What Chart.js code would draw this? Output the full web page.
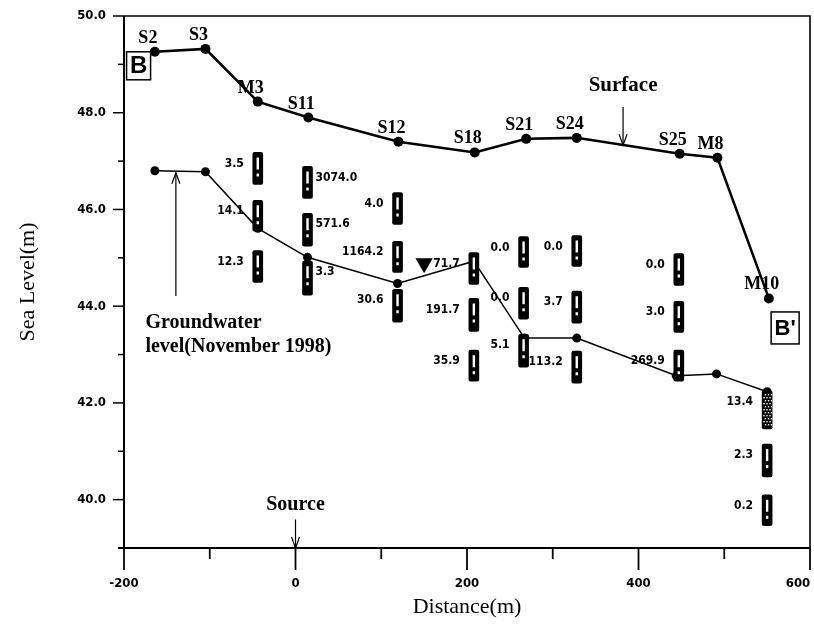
<!DOCTYPE html>
<html><head><meta charset="utf-8">
<script src="https://cdn.jsdelivr.net/npm/chart.js@4/dist/chart.umd.min.js"></script>
<style>html,body{margin:0;padding:0;background:#fff}#wrap{width:814px;height:630px}</style>
</head><body><div id="wrap"><canvas id="c" width="814" height="630"></canvas></div>
<script>
// ---- data ----
const stations = ['S2','S3','M3','S11','S12','S18','S21','S24','S25','M8','M10'];
const surfaceX = [-164,-105,-44,15,120,209,269,328,448,492,552];
const surfaceY = [49.26,49.32,48.23,47.90,47.40,47.18,47.46,47.48,47.15,47.07,44.16];
const gwX = [-164,-105,-44,14,119,208,267,328,444,491,550];
const gwY = [46.80,46.78,45.61,45.01,44.47,44.93,43.34,43.34,42.56,42.60,42.23];
const wellX      = [-44,-44,-44, 14,14,14, 119,119,119, 208,208,208, 266,266,266, 328,328,328, 447,447,447, 550,550,550];
const wellTop    = [47.18,46.19,45.15, 46.89,45.92,44.93, 46.35,45.34,44.35, 45.11,44.16,43.09, 45.44,44.39,43.42, 45.46,44.31,43.07, 45.09,44.10,43.09, 42.25,41.15,40.10];
const wellBottom = [46.52,45.55,44.49, 46.23,45.24,44.23, 45.69,44.70,43.67, 44.45,43.48,42.45, 44.80,43.73,42.74, 44.82,43.65,42.41, 44.43,43.46,42.45, 41.46,40.47,39.46];
const wellLabels = ['3.5','14.1','12.3','3074.0','571.6','3.3','4.0','1164.2','30.6','71.7','191.7','35.9','0.0','0.0','5.1','0.0','3.7','113.2','0.0','3.0','269.9','13.4','2.3','0.2'];
const wellLabelSide = ['L','L','L','R','R','R','L','L','L','L','L','L','L','L','L','L','L','L','L','L','L','L','L','L'];
const wellPattern = ['d','d','d','d','d','d','d','d','d','d','d','d','d','d','d','d','d','d','d','d','d','p','d','d'];
const markerX = [150];
const markerY = [44.89];
const xTicks = [-200,0,200,400,600];
const yTicks = [40,42,44,46,48,50];

// annotations (data coordinates)
const notes = {
  surface: {text:'Surface', x:382, y:48.45, tipY:47.33, tailY:48.12},
  gw: {lines:['Groundwater','level(November 1998)'], x:-175, y1:43.55, y2:43.06, arrowX:-139.5, tipY:46.76, tailY:44.21},
  source: {text:'Source', x:0, y:39.79, tipY:39.0, tailY:39.59},
  boxes: [{text:'B', x:-183, y:48.97, w:24, h:28, size:24}, {text:"B'", x:571, y:43.55, w:28, h:32, size:22}]
};

const NARROW = "'Liberation Sans Narrow','DejaVu Sans Condensed','Arial Narrow',sans-serif";
const SERIF = "'Liberation Serif','Times New Roman',serif";

function arrow(ctx, x, y1, y2) { // tail y1 -> tip y2
  ctx.beginPath(); ctx.moveTo(x, y1); ctx.lineTo(x, y2); ctx.stroke();
  const d = y2 > y1 ? -1 : 1;
  ctx.beginPath(); ctx.moveTo(x - 4, y2 + d * 11); ctx.lineTo(x, y2); ctx.lineTo(x + 4, y2 + d * 11); ctx.stroke();
}

const drawPlugin = {
  id: 'drawPlugin',
  afterDatasetsDraw(chart) {
    const {ctx} = chart;
    const meta = chart.getDatasetMeta(0);
    meta.data.forEach((bar, i) => {
      const p = bar.getProps(['x','y','base','width'], true);
      const top = Math.min(p.y, p.base), bot = Math.max(p.y, p.base);
      ctx.save();
      if (wellPattern[i] === 'p') {
        ctx.fillStyle = '#fff';
        for (let yy = top + 4; yy < bot - 3; yy += 3) {
          const off = (Math.round((yy - top) / 3) % 2) ? 1.5 : 0;
          for (let xx = p.x - 3; xx <= p.x + 3; xx += 3) {
            ctx.fillRect(xx + off - 0.8, yy - 0.8, 1.4, 1.4);
          }
        }
      } else {
        ctx.strokeStyle = '#fff';
        ctx.lineWidth = 2.4;
        ctx.setLineDash([12, 4, 3, 40]);
        ctx.beginPath(); ctx.moveTo(p.x, top + 5); ctx.lineTo(p.x, bot - 4); ctx.stroke();
      }
      ctx.restore();
      ctx.save();
      ctx.fillStyle = '#000';
      ctx.font = "bold 12px " + NARROW;
      ctx.textBaseline = 'middle';
      if (wellLabelSide[i] === 'L') { ctx.textAlign = 'right'; ctx.fillText(wellLabels[i], p.x - 14, top + 11); }
      else { ctx.textAlign = 'left'; ctx.fillText(wellLabels[i], p.x + 8, top + 11); }
      ctx.restore();
    });
  },
  afterDraw(chart) {
    const {ctx, chartArea: a, scales: {x, y}} = chart;
    ctx.save();
    ctx.strokeStyle = '#000'; ctx.fillStyle = '#000';
    ctx.lineWidth = 2;
    ctx.beginPath(); ctx.moveTo(a.left, a.top); ctx.lineTo(a.left, a.bottom); ctx.stroke();
    ctx.beginPath(); ctx.moveTo(a.left - 6, a.bottom); ctx.lineTo(a.right, a.bottom); ctx.stroke();
    ctx.lineWidth = 1.6;
    ctx.beginPath(); ctx.moveTo(a.left - 11, a.top); ctx.lineTo(a.right, a.top); ctx.lineTo(a.right, a.bottom); ctx.stroke();
    ctx.lineWidth = 1.5;
    for (let v = 40; v <= 49; v++) {
      const py = y.getPixelForValue(v);
      const len = v % 2 === 0 ? 11 : 6;
      ctx.beginPath(); ctx.moveTo(a.left - len, py); ctx.lineTo(a.left, py); ctx.stroke();
    }
    ctx.lineWidth = 1.8;
    for (let v = -200; v <= 600; v += 100) {
      const px = x.getPixelForValue(v);
      const len = v % 200 === 0 ? 22 : 11;
      ctx.beginPath(); ctx.moveTo(px, a.bottom); ctx.lineTo(px, a.bottom + len); ctx.stroke();
    }
    // x tick labels
    ctx.font = "bold 13px " + NARROW;
    ctx.textAlign = 'center'; ctx.textBaseline = 'middle';
    xTicks.forEach(v => ctx.fillText(String(v), x.getPixelForValue(v) - (v === 600 ? 12 : 0), a.bottom + 36));
    ctx.textBaseline = 'alphabetic';
    ctx.font = "bold 18px " + SERIF;
    stations.forEach((s, i) => {
      ctx.fillText(s, x.getPixelForValue(surfaceX[i]) - 7, y.getPixelForValue(surfaceY[i]) - 9);
    });
    const sn = notes.surface;
    ctx.font = "bold 21px " + SERIF;
    ctx.fillText(sn.text, x.getPixelForValue(sn.x), y.getPixelForValue(sn.y));
    ctx.lineWidth = 1.2;
    arrow(ctx, x.getPixelForValue(sn.x), y.getPixelForValue(sn.tailY), y.getPixelForValue(sn.tipY));
    const g = notes.gw;
    ctx.font = "bold 20px " + SERIF;
    ctx.textAlign = 'left';
    ctx.fillText(g.lines[0], x.getPixelForValue(g.x), y.getPixelForValue(g.y1));
    ctx.fillText(g.lines[1], x.getPixelForValue(g.x), y.getPixelForValue(g.y2));
    arrow(ctx, x.getPixelForValue(g.arrowX), y.getPixelForValue(g.tailY), y.getPixelForValue(g.tipY));
    const so = notes.source;
    ctx.textAlign = 'center';
    ctx.font = "bold 20px " + SERIF;
    ctx.fillText(so.text, x.getPixelForValue(so.x), y.getPixelForValue(so.y));
    arrow(ctx, x.getPixelForValue(so.x), y.getPixelForValue(so.tailY), y.getPixelForValue(so.tipY));
    notes.boxes.forEach(b => {
      const cx = x.getPixelForValue(b.x), cy = y.getPixelForValue(b.y);
      ctx.fillStyle = '#fff';
      ctx.fillRect(cx - b.w / 2, cy - b.h / 2, b.w, b.h);
      ctx.lineWidth = 1.5; ctx.strokeStyle = '#000';
      ctx.strokeRect(cx - b.w / 2, cy - b.h / 2, b.w, b.h);
      ctx.fillStyle = '#000';
      ctx.font = "bold " + b.size + "px 'Liberation Sans',Arial,sans-serif";
      ctx.textAlign = 'center'; ctx.textBaseline = 'middle';
      ctx.fillText(b.text, cx, cy + 1);
      ctx.textBaseline = 'alphabetic';
    });
    ctx.restore();
  }
};

new Chart(document.getElementById('c'), {
  type: 'scatter',
  data: {
    datasets: [
      {
        type: 'bar', label: 'Wells', order: 0,
        data: wellX.map((v, i) => ({x: v, y: [wellBottom[i], wellTop[i]]})),
        backgroundColor: '#000', borderWidth: 0, barThickness: 10, borderRadius: 2, borderSkipped: false, grouped: false
      },
      {
        type: 'line', label: 'Marker', order: 1,
        data: markerX.map((v, i) => ({x: v, y: markerY[i]})),
        showLine: false, pointStyle: 'triangle', rotation: 180, pointRadius: 10,
        backgroundColor: '#000', borderColor: '#000', borderWidth: 0
      },
      {
        type: 'line', label: 'Surface', order: 2,
        data: surfaceX.map((v, i) => ({x: v, y: surfaceY[i]})),
        borderColor: '#000', borderWidth: 2.5, pointRadius: 5, pointBackgroundColor: '#000', pointBorderWidth: 0, tension: 0
      },
      {
        type: 'line', label: 'Groundwater', order: 3,
        data: gwX.map((v, i) => ({x: v, y: gwY[i]})),
        borderColor: '#000', borderWidth: 1.5, pointRadius: 4.5, pointBackgroundColor: '#000', pointBorderWidth: 0, tension: 0
      }
    ]
  },
  options: {
    responsive: false, animation: false, events: [],
    layout: {autoPadding: false, padding: {top: 16, right: 4, left: 0, bottom: 0}},
    plugins: {legend: {display: false}, tooltip: {enabled: false}},
    scales: {
      x: {
        type: 'linear', min: -200, max: 600, offset: false,
        grid: {display: false, drawTicks: false}, border: {display: false},
        afterBuildTicks: s => { s.ticks = xTicks.map(v => ({value: v})); },
        afterFit: s => { s.height = 82; s.paddingLeft = 0; s.paddingRight = 0; },
        ticks: {display: false},
        title: {display: true, text: 'Distance(m)', color: '#000', padding: {top: 0, bottom: 10}, font: {family: SERIF, size: 22}}
      },
      y: {
        type: 'linear', min: 39, max: 50, beginAtZero: false,
        grid: {display: false, drawTicks: false}, border: {display: false},
        afterBuildTicks: s => { s.ticks = yTicks.map(v => ({value: v})); },
        afterFit: s => { s.width = 124; s.paddingTop = 0; s.paddingBottom = 0; },
        ticks: {color: '#000', padding: 18, font: {family: NARROW, size: 13, weight: 'bold'}, callback: v => Number(v).toFixed(1)},
        title: {display: true, text: 'Sea Level(m)', color: '#000', padding: {top: 15, bottom: 0}, font: {family: SERIF, size: 22}}
      }
    }
  },
  plugins: [drawPlugin]
});
</script>
</body></html>
